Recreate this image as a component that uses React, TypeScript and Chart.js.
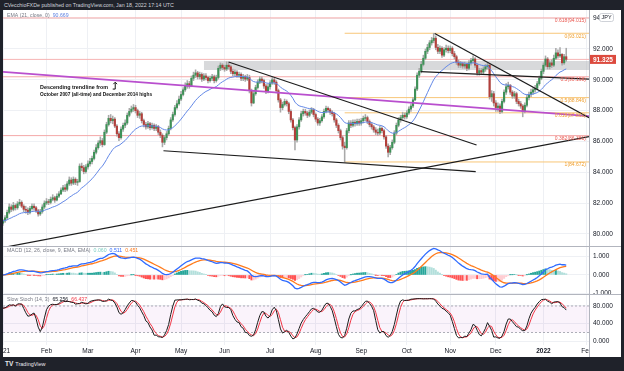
import React, { useEffect, useRef } from 'react';
import { Chart, registerables } from 'chart.js';
Chart.register(...registerables);

// ---------- DATA (CAD/JPY daily, Jan 2021 – Jan 18 2022) ----------
const firstOpen = 80.70;
const closes = [
  80.85,81.05,81.40,81.75,81.60,81.85,81.70,81.95,82.05,81.80,81.60,81.55,81.40,81.65,81.80,81.70,81.50,81.30,81.45,81.75,82.00,
  82.10,82.05,82.25,82.35,82.20,82.45,82.60,82.85,83.00,82.90,83.25,83.50,83.30,83.55,83.35,83.40,84.40,84.30,84.05,84.35,
  84.55,84.70,84.90,85.30,85.60,85.90,86.05,85.80,86.60,87.10,87.50,87.35,87.45,87.00,86.50,86.25,86.80,87.05,87.20,87.70,87.95,88.10,88.20,
  88.00,87.70,87.80,87.35,87.10,86.95,87.15,86.90,87.05,86.85,86.95,86.60,86.40,85.95,86.25,86.50,86.85,87.40,87.75,88.20,88.45,88.75,
  89.05,89.35,89.60,89.75,89.60,90.10,90.30,90.45,90.20,90.35,90.05,90.25,90.15,89.95,90.10,90.20,89.95,90.15,90.75,90.95,90.80,
  90.70,90.95,90.85,90.55,90.40,90.50,90.30,90.35,90.10,90.20,90.05,90.15,89.30,88.50,89.10,89.50,89.85,90.05,89.95,89.60,89.25,89.55,
  89.80,90.00,89.85,89.30,88.70,88.20,88.40,88.60,88.45,87.95,87.40,86.90,86.10,86.95,87.40,87.80,87.95,87.85,87.70,87.90,88.05,87.75,
  87.45,87.20,87.35,87.60,87.95,88.15,88.05,87.90,87.80,87.40,87.05,86.70,86.25,85.70,85.60,86.70,87.20,87.05,87.25,87.15,87.30,87.20,
  87.35,87.50,87.55,87.30,87.10,86.95,86.75,86.60,86.55,86.85,86.70,86.30,85.70,85.30,85.60,85.95,86.55,87.05,87.40,87.55,87.70,87.60,
  87.85,88.10,88.30,88.70,89.40,90.30,90.55,91.00,91.40,91.85,92.10,92.40,92.55,92.70,92.10,91.85,92.05,91.60,91.95,92.05,91.90,
  92.05,91.70,91.50,91.15,90.95,91.05,90.90,91.00,90.75,91.10,91.25,91.35,90.95,90.45,90.60,90.50,90.70,90.85,90.95,88.90,89.10,88.50,
  88.20,88.30,87.95,88.60,89.20,89.55,89.65,89.20,88.95,89.10,88.60,88.45,88.30,87.95,88.35,88.85,89.05,89.20,89.35,89.45,89.75,90.10,90.55,
  90.95,91.35,90.85,91.10,90.95,91.40,91.75,91.55,91.65,91.10,91.50,91.325,
];
const highs = [
  80.95,81.20,81.55,81.95,81.90,82.05,81.95,82.10,82.25,82.15,81.90,81.80,81.70,81.80,81.95,81.95,81.80,81.60,81.60,81.90,82.15,
  82.30,82.25,82.40,82.55,82.45,82.60,82.75,83.00,83.15,83.20,83.40,83.70,83.65,83.70,83.65,83.55,84.55,84.60,84.45,84.50,
  84.75,84.90,85.05,85.45,85.80,86.05,86.30,86.20,86.75,87.25,87.70,87.75,87.65,87.55,87.10,86.65,86.95,87.20,87.40,87.85,88.15,88.30,88.40,
  88.35,88.10,87.95,87.90,87.45,87.25,87.30,87.25,87.20,87.15,87.10,87.05,86.75,86.50,86.40,86.65,87.00,87.55,87.90,88.35,88.65,88.95,
  89.25,89.50,89.80,89.95,89.90,90.25,90.50,90.65,90.55,90.50,90.45,90.40,90.40,90.25,90.25,90.35,90.30,90.30,90.90,91.10,91.05,
  90.95,91.17,91.10,90.95,90.70,90.65,90.60,90.50,90.45,90.35,90.30,90.35,90.30,89.40,89.25,89.65,90.00,90.20,90.20,90.05,89.70,89.70,
  89.95,90.15,90.10,89.95,89.40,88.80,88.55,88.75,88.70,88.55,88.05,87.50,87.00,87.10,87.55,87.95,88.10,88.10,87.95,88.05,88.20,88.15,
  87.85,87.55,87.50,87.75,88.10,88.30,88.25,88.15,88.00,87.90,87.50,87.15,86.80,86.35,85.95,86.85,87.35,87.35,87.40,87.40,87.45,87.45,
  87.50,87.65,87.75,87.65,87.40,87.25,87.05,86.90,86.80,87.00,86.95,86.80,86.40,85.85,85.75,86.10,86.70,87.20,87.55,87.70,87.90,87.85,
  88.00,88.25,88.45,88.85,89.55,90.45,90.75,91.20,91.60,92.00,92.30,92.55,92.75,93.02,92.85,92.30,92.20,92.15,92.10,92.25,92.20,
  92.20,92.15,91.85,91.60,91.30,91.20,91.15,91.15,91.10,91.25,91.40,91.55,91.45,91.05,90.75,90.75,90.85,91.00,91.10,91.00,89.30,89.25,
  88.65,88.50,88.45,88.75,89.35,89.75,89.85,89.70,89.30,89.25,89.20,88.75,88.60,88.40,88.50,89.00,89.20,89.40,89.50,89.65,89.90,90.25,90.70,
  91.10,91.55,91.45,91.25,91.30,91.60,92.05,91.95,92.10,91.70,91.65,92.05,
];
const lows = [
  80.55,80.75,80.95,81.30,81.45,81.50,81.55,81.60,81.85,81.70,81.45,81.35,81.25,81.30,81.55,81.55,81.40,81.15,81.20,81.35,81.65,
  81.90,81.90,81.95,82.15,82.05,82.15,82.35,82.55,82.75,82.75,82.80,83.15,83.15,83.20,83.20,83.15,83.35,84.10,83.90,83.95,
  84.20,84.40,84.55,84.80,85.20,85.50,85.75,85.65,85.75,86.50,87.00,87.20,87.15,86.90,86.35,86.05,86.15,86.65,86.90,87.10,87.60,87.85,87.95,
  87.85,87.55,87.50,87.20,86.95,86.80,86.85,86.75,86.80,86.70,86.70,86.45,86.25,85.65,85.80,86.10,86.40,86.75,87.30,87.65,88.10,88.35,
  88.65,88.95,89.25,89.45,89.45,89.55,89.95,90.15,90.05,90.05,89.90,89.95,90.00,89.80,89.85,89.95,89.80,89.85,90.05,90.60,90.65,
  90.55,90.60,90.70,90.40,90.25,90.25,90.15,90.15,89.95,89.95,89.90,89.95,89.15,88.30,88.45,89.00,89.40,89.75,89.80,89.45,89.10,89.15,
  89.40,89.70,89.70,89.15,88.55,87.90,88.05,88.30,88.30,87.80,87.25,86.75,85.45,85.95,86.80,87.30,87.65,87.70,87.55,87.60,87.80,87.60,
  87.30,87.05,87.05,87.25,87.50,87.85,87.90,87.75,87.65,87.25,86.90,86.55,86.10,85.50,84.67,85.50,86.55,86.90,86.95,87.00,87.05,87.05,
  87.05,87.20,87.35,87.15,86.95,86.80,86.60,86.45,86.40,86.45,86.55,86.15,85.55,85.00,85.15,85.50,85.85,86.45,86.95,87.25,87.40,87.45,
  87.50,87.75,87.95,88.20,88.65,89.30,90.15,90.45,90.90,91.30,91.70,91.95,92.25,92.40,91.95,91.70,91.70,91.45,91.50,91.80,91.75,
  91.75,91.55,91.35,91.00,90.80,90.80,90.75,90.75,90.60,90.65,90.95,91.10,90.80,90.30,90.30,90.35,90.40,90.55,90.70,88.75,88.60,88.30,
  87.95,87.95,87.80,87.85,88.50,89.05,89.40,89.05,88.80,88.80,88.45,88.30,88.15,87.60,87.85,88.25,88.70,88.90,89.05,89.20,89.35,89.65,90.00,
  90.40,90.85,90.70,90.70,90.80,90.85,91.30,91.40,91.45,90.95,91.00,91.20,
];

// time axis: bar index of first trading day of each month
const monthTicks = [0, 21, 41, 64, 86, 107, 129, 151, 173, 195, 216, 238, 261, 282];
const monthLabels = ['2021', 'Feb', 'Mar', 'Apr', 'May', 'Jun', 'Jul', 'Aug', 'Sep', 'Oct', 'Nov', 'Dec', '2022', 'Feb'];

const priceTicks = [80, 82, 84, 86, 88, 90, 92, 94];
const macdTicks = [-1, 0, 1];
const stochTicks = [0, 40, 80];
const stochBand = [20, 80];

const lastPrice = 91.325;
const redFibLevels = [94.015, 90.198, 86.381];
const redFibLabels = ['0.618(94.015)', '0.5(90.198)', '0.382(86.381)'];
const orangeFibLevels = [93.021, 88.846, 87.861, 84.672];
const orangeFibLabels = ['0(93.021)', '0.5(88.846)', '0.618(87.861)', '1(84.672)'];
const orangeFibStart = 165;

const zoneStart = 97;
const zoneLow = 90.64;
const zoneHigh = 91.22;

// trendlines in (bar index, price)
const blackLines = [
  [[108.9, 91.16], [228.7, 85.77]],
  [[77.5, 85.40], [228.3, 84.04]],
  [[-1.5, 79.08], [283, 86.31]],
  [[208.5, 93.0], [283, 87.54]],
  [[201.7, 90.53], [283, 90.05]],
];
const purpleLine = [[0, 90.51], [283, 87.65]];

const noteLines = ['Descending trendline from', 'October 2007 (all-time) and December 2014 highs'];
const noteAnchor = [17.9, 89.47];
const arrowAnchor = [54.2, 89.85, 89.40];

const legendEMA = ['EMA (21, close, 0)', '90.669'];
const legendMACD = ['MACD (12, 26, close, 9, EMA, EMA)', '0.060', '0.511', '0.451'];
const legendStoch = ['Slow Stoch (14, 3)', '65.256', '66.437'];

// ---------- STYLE ----------
const FONT = '"Liberation Sans", Arial, sans-serif';
const X_MIN = 0;
const X_MAX = 283;
const GRID = '#eef0f4';
const FRAME = '#1f222a';
const SEP = '#b2b5be';
const UP = '#3f9158';
const DOWN = '#b23f3b';

// ---------- helpers ----------
function ema(src: number[], n: number) {
  const k = 2 / (n + 1);
  const out: number[] = [];
  src.forEach((v, i) => out.push(i === 0 ? v : v * k + out[i - 1] * (1 - k)));
  return out;
}
function sma(src: number[], n: number) {
  return src.map((_, i) => {
    const s = src.slice(Math.max(0, i - n + 1), i + 1);
    return s.reduce((a, b) => a + b, 0) / s.length;
  });
}

const fixScale = (w: number | null, h: number | null) => (s: any) => {
  if (w !== null) s.width = w;
  if (h !== null) s.height = h;
  s.paddingLeft = 0; s.paddingRight = 0; s.paddingTop = 0; s.paddingBottom = 0;
};

const xScale = (labels: boolean) => ({
  type: 'linear', min: X_MIN, max: X_MAX, offset: false, position: 'bottom', bounds: 'data',
  afterBuildTicks: (s: any) => { s.ticks = monthTicks.map(v => ({ value: v })); },
  afterFit: fixScale(null, labels ? 12 : 0),
  grid: { color: GRID, drawTicks: false, offset: false },
  border: { display: false },
  ticks: labels ? {
    display: true, autoSkip: false, maxRotation: 0, minRotation: 0, padding: 2.5, color: '#131722',
    font: (c: any) => ({ family: FONT, size: 6.5, weight: c.index === 12 ? 'bold' : 'normal' }),
    callback: (v: any) => { const k = monthTicks.indexOf(Number(v)); return k >= 0 ? monthLabels[k] : ''; },
  } : { display: false },
});

const yScale = (min: number, max: number, ticks: number[]) => ({
  type: 'linear', position: 'right', min, max, bounds: 'data',
  afterBuildTicks: (s: any) => { s.ticks = ticks.map(v => ({ value: v })); },
  afterFit: fixScale(32, null),
  grid: { color: GRID, drawTicks: false },
  border: { display: false },
  ticks: { color: '#131722', padding: 4, font: { family: FONT, size: 6.5 }, callback: (v: any) => Number(v).toFixed(3) },
});

const lineDs = (data: any[], color: string, width: number, order: number, extra: any = {}) => ({
  type: 'line', data, borderColor: color, borderWidth: width, pointRadius: 0, pointHoverRadius: 0,
  fill: false, tension: 0, order, ...extra,
});
const hline = (y: number, x0: number, x1: number) => [{ x: x0, y }, { x: x1, y }];
const seg = (p: number[][]) => p.map(([x, y]) => ({ x, y }));

const baseOptions = (scales: any) => ({
  animation: false, responsive: false, maintainAspectRatio: false, devicePixelRatio: 1, events: [],
  layout: { padding: 0 },
  plugins: { legend: { display: false }, tooltip: { enabled: false } },
  scales,
});

function drawLegend(ctx: any, x: number, y: number, parts: [string, string][]) {
  ctx.save();
  ctx.font = `5.2px ${FONT}`;
  ctx.textAlign = 'left';
  ctx.textBaseline = 'middle';
  let cx = x;
  parts.forEach(([t, c]) => {
    ctx.fillStyle = c;
    ctx.fillText(t, cx, y);
    cx += ctx.measureText(t).width + 3;
  });
  ctx.restore();
}

// ---------- derived series ----------
const n = closes.length;
const opens = closes.map((c, i) => (i === 0 ? firstOpen : closes[i - 1]));
const hi = closes.map((c, i) => Math.max(opens[i], c, highs[i] ?? c));
const lo = closes.map((c, i) => Math.min(opens[i], c, lows[i] ?? c));
const emaVals = ema(closes, 21);
const ema12 = ema(closes, 12);
const ema26 = ema(closes, 26);
const macd = ema12.map((v, i) => v - ema26[i]);
const signal = ema(macd, 9);
const hist = macd.map((v, i) => v - signal[i]);
const rawK = closes.map((c, i) => {
  const a = Math.max(0, i - 13);
  const hh = Math.max(...hi.slice(a, i + 1));
  const ll = Math.min(...lo.slice(a, i + 1));
  return hh === ll ? 50 : (100 * (c - ll)) / (hh - ll);
});
const stochK = sma(rawK, 3);
const stochD = sma(stochK, 3);

function priceConfig() {
  const idx = closes.map((_, i) => i);
  const datasets: any[] = [
    lineDs(hline(zoneLow, zoneStart, X_MAX), 'rgba(0,0,0,0)', 0, 30),
    lineDs(hline(zoneHigh, zoneStart, X_MAX), 'rgba(0,0,0,0)', 0, 29, { fill: '-1', backgroundColor: 'rgba(168,170,176,0.45)' }),
    ...redFibLevels.map(v => lineDs(hline(v, X_MIN, X_MAX), '#f4a8a8', 1, 20)),
    lineDs(hline(lastPrice, X_MIN, X_MAX), '#f6b4b4', 1, 20),
    ...orangeFibLevels.map(v => lineDs(hline(v, orangeFibStart, X_MAX), '#f8c678', 1, 20)),
    {
      type: 'bar', data: idx.map(i => ({ x: i, y: [lo[i], hi[i]] })), backgroundColor: '#a9a9a9',
      barThickness: 0.9, grouped: false, borderWidth: 0, order: 12,
    },
    {
      type: 'bar', data: idx.map(i => ({ x: i, y: [opens[i], closes[i]] })),
      backgroundColor: idx.map(i => (closes[i] >= opens[i] ? UP : DOWN)),
      barThickness: 1.5, grouped: false, borderWidth: 0, order: 11,
    },
    lineDs(idx.map(i => ({ x: i, y: emaVals[i] })), '#6287e6', 1, 5),
    lineDs(seg(purpleLine), '#b94fce', 1.8, 4),
    ...blackLines.map(l => lineDs(seg(l), '#1c1c1c', 1.2, 3)),
  ];
  const overlay = {
    id: 'priceOverlay',
    afterDraw(chart: any) {
      const { ctx, chartArea: ca } = chart;
      const xs = chart.scales.x, ys = chart.scales.y;
      ctx.save();
      // fib labels
      ctx.font = `5px ${FONT}`;
      ctx.textAlign = 'right';
      ctx.textBaseline = 'top';
      redFibLevels.forEach((v, k) => { ctx.fillStyle = '#ea5a52'; ctx.fillText(redFibLabels[k], ca.right - 3, ys.getPixelForValue(v) + 0.5); });
      orangeFibLevels.forEach((v, k) => { ctx.fillStyle = '#f0a030'; ctx.fillText(orangeFibLabels[k], ca.right - 3, ys.getPixelForValue(v) + 0.5); });
      // annotation
      ctx.fillStyle = '#111';
      ctx.font = `bold 5.4px ${FONT}`;
      ctx.textAlign = 'left';
      ctx.textBaseline = 'middle';
      const nx = xs.getPixelForValue(noteAnchor[0]);
      const ny = ys.getPixelForValue(noteAnchor[1]);
      ctx.fillText(noteLines[0], nx, ny, 68);
      ctx.fillText(noteLines[1], nx, ny + 6.2, 112);
      // arrow
      const ax = xs.getPixelForValue(arrowAnchor[0]);
      const ay0 = ys.getPixelForValue(arrowAnchor[1]);
      const ay1 = ys.getPixelForValue(arrowAnchor[2]);
      ctx.strokeStyle = '#111';
      ctx.lineWidth = 1;
      ctx.beginPath();
      ctx.moveTo(ax - 2.5, ay1); ctx.lineTo(ax, ay1); ctx.lineTo(ax, ay0 + 1);
      ctx.stroke();
      ctx.beginPath();
      ctx.moveTo(ax - 1.8, ay0 + 2); ctx.lineTo(ax, ay0); ctx.lineTo(ax + 1.8, ay0 + 2);
      ctx.stroke();
      ctx.restore();
      // legend
      drawLegend(ctx, ca.left + 4, 5.5, [[legendEMA[0], '#787b86'], [legendEMA[1], '#5b7fe0']]);
      // JPY box
      ctx.save();
      const bx = ca.right + 10, by = 3;
      ctx.fillStyle = '#fff';
      ctx.strokeStyle = '#c3c6ce';
      ctx.lineWidth = 0.8;
      ctx.beginPath();
      ctx.roundRect(bx + 0.5, by + 0.5, 14, 8, 2);
      ctx.fill(); ctx.stroke();
      ctx.fillStyle = '#131722';
      ctx.font = `5.5px ${FONT}`;
      ctx.textAlign = 'center';
      ctx.textBaseline = 'middle';
      ctx.fillText('JPY', bx + 7.5, by + 4.7);
      // last price box
      const py = ys.getPixelForValue(lastPrice);
      ctx.fillStyle = '#dc4a3e';
      ctx.fillRect(ca.right + 1, py - 4.5, 26, 9);
      ctx.fillStyle = '#fff';
      ctx.font = `bold 6.5px ${FONT}`;
      ctx.textAlign = 'left';
      ctx.fillText(lastPrice.toFixed(3), ca.right + 4, py + 0.5);
      ctx.restore();
    },
  };
  return {
    type: 'line',
    data: { datasets },
    options: baseOptions({ x: xScale(false), y: yScale(79.22, 94.53, priceTicks) }),
    plugins: [overlay],
  };
}

function macdConfig() {
  const idx = closes.map((_, i) => i);
  const colors = hist.map((h, i) => {
    const prev = i > 0 ? hist[i - 1] : h;
    if (h >= 0) return h >= prev ? '#26a69a' : '#b2dfdb';
    return h < prev ? '#ff5252' : '#ffcdd2';
  });
  const datasets: any[] = [
    { type: 'bar', data: idx.map(i => ({ x: i, y: hist[i] })), backgroundColor: colors, barThickness: 1.4, grouped: false, borderWidth: 0, order: 5 },
    lineDs(idx.map(i => ({ x: i, y: signal[i] })), '#ff7b1c', 1.3, 2),
    lineDs(idx.map(i => ({ x: i, y: macd[i] })), '#2f6bff', 1.3, 1),
  ];
  const overlay = {
    id: 'macdOverlay',
    afterDraw(chart: any) {
      drawLegend(chart.ctx, chart.chartArea.left + 4, 3.8, [
        [legendMACD[0], '#787b86'], [legendMACD[1], '#7fcfc3'], [legendMACD[2], '#2f6bff'], [legendMACD[3], '#ff7b1c'],
      ]);
    },
  };
  return {
    type: 'line',
    data: { datasets },
    options: baseOptions({ x: xScale(false), y: yScale(-1.04, 1.53, macdTicks) }),
    plugins: [overlay],
  };
}

function stochConfig() {
  const idx = closes.map((_, i) => i);
  const datasets: any[] = [
    lineDs(hline(stochBand[1], X_MIN, X_MAX), '#9a9ca6', 0.8, 10, { borderDash: [2, 2] }),
    lineDs(hline(stochBand[0], X_MIN, X_MAX), '#9a9ca6', 0.8, 9, { borderDash: [2, 2], fill: '-1', backgroundColor: 'rgba(156,39,176,0.055)' }),
    lineDs(idx.map(i => ({ x: i, y: stochD[i] })), '#f23645', 1, 2),
    lineDs(idx.map(i => ({ x: i, y: stochK[i] })), '#1c1c1c', 1, 1),
  ];
  const overlay = {
    id: 'stochOverlay',
    afterDraw(chart: any) {
      const { ctx, chartArea: ca, width, height } = chart;
      ctx.save();
      ctx.fillStyle = '#fff';
      ctx.fillRect(ca.right + 1, ca.bottom + 1, width - ca.right, height - ca.bottom);
      ctx.restore();
      drawLegend(ctx, ca.left + 4, 5, [[legendStoch[0], '#787b86'], [legendStoch[1], '#131722'], [legendStoch[2], '#f23645']]);
    },
  };
  return {
    type: 'line',
    data: { datasets },
    options: baseOptions({ x: xScale(true), y: yScale(-8.4, 104.9, stochTicks) }),
    plugins: [overlay],
  };
}

export default function App() {
  const priceRef = useRef<HTMLCanvasElement>(null);
  const macdRef = useRef<HTMLCanvasElement>(null);
  const stochRef = useRef<HTMLCanvasElement>(null);

  useEffect(() => {
    const charts: Chart[] = [
      new Chart(priceRef.current as HTMLCanvasElement, priceConfig() as any),
      new Chart(macdRef.current as HTMLCanvasElement, macdConfig() as any),
      new Chart(stochRef.current as HTMLCanvasElement, stochConfig() as any),
    ];
    return () => charts.forEach(c => c.destroy());
  }, []);

  const abs = (l: number, t: number, w: number, h: number, extra: any = {}) =>
    ({ position: 'absolute' as const, left: l, top: t, width: w, height: h, ...extra });

  return (
    <div style={{ position: 'fixed', left: 0, top: 0, width: 624, height: 371, background: FRAME, overflow: 'hidden', fontFamily: FONT }}>
      <div style={abs(3, 10, 618, 347, { background: '#fff' })} />
      <div style={abs(4, 2, 400, 7, { color: '#d1d4dc', fontSize: '5.3px', lineHeight: '7px', whiteSpace: 'nowrap' })}>
        CVecchioFXDe published on TradingView.com, Jan 18, 2022 17:14 UTC
      </div>
      <canvas ref={priceRef} width={618} height={236} style={abs(3, 10, 618, 236)} />
      <canvas ref={macdRef} width={618} height={47} style={abs(3, 247, 618, 47)} />
      <canvas ref={stochRef} width={618} height={62} style={abs(3, 295, 618, 62)} />
      <div style={abs(3, 246, 618, 1, { background: SEP })} />
      <div style={abs(3, 294, 618, 1, { background: SEP })} />
      <div style={abs(589, 10, 1, 347, { background: SEP })} />
      <div style={abs(5, 360, 120, 8, { color: '#e8e9ed', fontSize: '5.5px', lineHeight: '8px', whiteSpace: 'nowrap' })}>
        <b style={{ fontSize: '6.5px', marginRight: 2 }}>TV</b>TradingView
      </div>
    </div>
  );
}
